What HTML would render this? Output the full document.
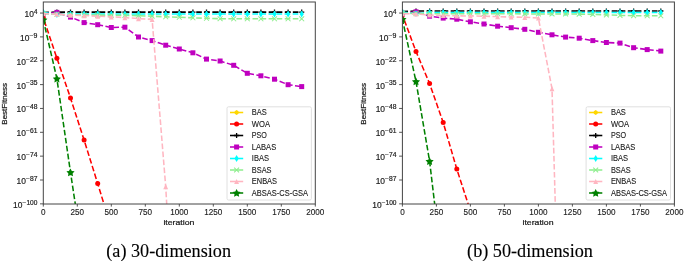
<!DOCTYPE html>
<html><head><meta charset="utf-8"><style>
html,body{margin:0;padding:0;background:#fff;width:685px;height:262px;overflow:hidden}
svg{display:block;will-change:transform;filter:blur(0.35px)}
.tk{font-family:"Liberation Sans",sans-serif;font-size:7.95px;fill:#1a1a1a;stroke:#1a1a1a;stroke-width:0.22px}
.sp{font-family:"Liberation Sans",sans-serif;font-size:6.4px;fill:#1a1a1a;stroke:#1a1a1a;stroke-width:0.18px}
.xt{font-family:"Liberation Sans",sans-serif;font-size:8.5px;fill:#1a1a1a;stroke:#1a1a1a;stroke-width:0.12px}
.yt{font-family:"Liberation Sans",sans-serif;font-size:8.9px;fill:#1a1a1a;stroke:#1a1a1a;stroke-width:0.18px}
.lg{font-family:"Liberation Sans",sans-serif;font-size:8.4px;fill:#1a1a1a;stroke:#1a1a1a;stroke-width:0.12px}
.cap{font-family:"Liberation Serif",serif;font-size:18.2px;fill:#000;stroke:#000;stroke-width:0.12px}
</style></head><body>
<svg width="685" height="262" viewBox="0 0 685 262">
<rect width="685" height="262" fill="#fff"/>
<clipPath id="clip0"><rect x="43.3" y="2.0" width="272.0" height="202.0"/></clipPath>
<g clip-path="url(#clip0)">
<path d="M43.30 17.80 L56.90 58.20 L70.50 98.00 L84.10 140.10 L97.70 183.60 L111.30 228.00" fill="none" stroke="#FF0000" stroke-width="1.55" stroke-dasharray="5.62,2.43" stroke-dashoffset="-3.0"/>
<circle cx="43.30" cy="17.80" r="2.50" fill="#FF0000"/>
<circle cx="56.90" cy="58.20" r="2.50" fill="#FF0000"/>
<circle cx="70.50" cy="98.00" r="2.50" fill="#FF0000"/>
<circle cx="84.10" cy="140.10" r="2.50" fill="#FF0000"/>
<circle cx="97.70" cy="183.60" r="2.50" fill="#FF0000"/>
<circle cx="111.30" cy="228.00" r="2.50" fill="#FF0000"/>
<path d="M43.30 12.40 L56.90 12.10 L70.50 12.10 L84.10 12.10 L97.70 12.10 L111.30 12.10 L124.90 12.10 L138.50 12.10 L152.10 12.10 L165.70 12.10 L179.30 12.10 L192.90 12.10 L206.50 12.10 L220.10 12.10 L233.70 12.10 L247.30 12.10 L260.90 12.10 L274.50 12.10 L288.10 12.10 L301.70 12.10" fill="none" stroke="#000000" stroke-width="1.55" stroke-dasharray="5.62,2.43" stroke-dashoffset="0"/>
<path d="M40.70 12.40H45.90M43.30 9.80V15.00" stroke="#000000" stroke-width="1.3" fill="none"/>
<path d="M54.30 12.10H59.50M56.90 9.50V14.70" stroke="#000000" stroke-width="1.3" fill="none"/>
<path d="M67.90 12.10H73.10M70.50 9.50V14.70" stroke="#000000" stroke-width="1.3" fill="none"/>
<path d="M81.50 12.10H86.70M84.10 9.50V14.70" stroke="#000000" stroke-width="1.3" fill="none"/>
<path d="M95.10 12.10H100.30M97.70 9.50V14.70" stroke="#000000" stroke-width="1.3" fill="none"/>
<path d="M108.70 12.10H113.90M111.30 9.50V14.70" stroke="#000000" stroke-width="1.3" fill="none"/>
<path d="M122.30 12.10H127.50M124.90 9.50V14.70" stroke="#000000" stroke-width="1.3" fill="none"/>
<path d="M135.90 12.10H141.10M138.50 9.50V14.70" stroke="#000000" stroke-width="1.3" fill="none"/>
<path d="M149.50 12.10H154.70M152.10 9.50V14.70" stroke="#000000" stroke-width="1.3" fill="none"/>
<path d="M163.10 12.10H168.30M165.70 9.50V14.70" stroke="#000000" stroke-width="1.3" fill="none"/>
<path d="M176.70 12.10H181.90M179.30 9.50V14.70" stroke="#000000" stroke-width="1.3" fill="none"/>
<path d="M190.30 12.10H195.50M192.90 9.50V14.70" stroke="#000000" stroke-width="1.3" fill="none"/>
<path d="M203.90 12.10H209.10M206.50 9.50V14.70" stroke="#000000" stroke-width="1.3" fill="none"/>
<path d="M217.50 12.10H222.70M220.10 9.50V14.70" stroke="#000000" stroke-width="1.3" fill="none"/>
<path d="M231.10 12.10H236.30M233.70 9.50V14.70" stroke="#000000" stroke-width="1.3" fill="none"/>
<path d="M244.70 12.10H249.90M247.30 9.50V14.70" stroke="#000000" stroke-width="1.3" fill="none"/>
<path d="M258.30 12.10H263.50M260.90 9.50V14.70" stroke="#000000" stroke-width="1.3" fill="none"/>
<path d="M271.90 12.10H277.10M274.50 9.50V14.70" stroke="#000000" stroke-width="1.3" fill="none"/>
<path d="M285.50 12.10H290.70M288.10 9.50V14.70" stroke="#000000" stroke-width="1.3" fill="none"/>
<path d="M299.10 12.10H304.30M301.70 9.50V14.70" stroke="#000000" stroke-width="1.3" fill="none"/>
<path d="M43.30 13.80 L56.90 12.40 L70.50 17.10 L84.10 22.60 L97.70 24.70 L111.30 27.50 L124.90 27.20 L138.50 37.00 L152.10 40.60 L165.70 45.20 L179.30 49.00 L192.90 52.80 L206.50 59.10 L220.10 61.00 L233.70 65.30 L247.30 73.30 L260.90 75.80 L274.50 79.20 L288.10 84.70 L301.70 86.60" fill="none" stroke="#BF00BF" stroke-width="1.55" stroke-dasharray="5.62,2.43" stroke-dashoffset="0"/>
<rect x="40.80" y="11.30" width="5.00" height="5.00" fill="#BF00BF"/>
<rect x="54.40" y="9.90" width="5.00" height="5.00" fill="#BF00BF"/>
<rect x="68.00" y="14.60" width="5.00" height="5.00" fill="#BF00BF"/>
<rect x="81.60" y="20.10" width="5.00" height="5.00" fill="#BF00BF"/>
<rect x="95.20" y="22.20" width="5.00" height="5.00" fill="#BF00BF"/>
<rect x="108.80" y="25.00" width="5.00" height="5.00" fill="#BF00BF"/>
<rect x="122.40" y="24.70" width="5.00" height="5.00" fill="#BF00BF"/>
<rect x="136.00" y="34.50" width="5.00" height="5.00" fill="#BF00BF"/>
<rect x="149.60" y="38.10" width="5.00" height="5.00" fill="#BF00BF"/>
<rect x="163.20" y="42.70" width="5.00" height="5.00" fill="#BF00BF"/>
<rect x="176.80" y="46.50" width="5.00" height="5.00" fill="#BF00BF"/>
<rect x="190.40" y="50.30" width="5.00" height="5.00" fill="#BF00BF"/>
<rect x="204.00" y="56.60" width="5.00" height="5.00" fill="#BF00BF"/>
<rect x="217.60" y="58.50" width="5.00" height="5.00" fill="#BF00BF"/>
<rect x="231.20" y="62.80" width="5.00" height="5.00" fill="#BF00BF"/>
<rect x="244.80" y="70.80" width="5.00" height="5.00" fill="#BF00BF"/>
<rect x="258.40" y="73.30" width="5.00" height="5.00" fill="#BF00BF"/>
<rect x="272.00" y="76.70" width="5.00" height="5.00" fill="#BF00BF"/>
<rect x="285.60" y="82.20" width="5.00" height="5.00" fill="#BF00BF"/>
<rect x="299.20" y="84.10" width="5.00" height="5.00" fill="#BF00BF"/>
<path d="M43.30 12.30 L56.90 14.60 L70.50 14.00 L84.10 14.00 L97.70 14.00 L111.30 14.00 L124.90 14.00 L138.50 14.00 L152.10 14.00 L165.70 14.00 L179.30 14.00 L192.90 14.00 L206.50 14.00 L220.10 14.00 L233.70 14.00 L247.30 14.00 L260.90 14.00 L274.50 14.00 L288.10 14.00 L301.70 14.00" fill="none" stroke="#00FFFF" stroke-width="1.55" stroke-dasharray="5.62,2.43" stroke-dashoffset="0"/>
<polygon points="43.30,8.85 45.40,12.30 43.30,15.75 41.20,12.30" fill="#00FFFF"/>
<polygon points="56.90,11.15 59.00,14.60 56.90,18.05 54.80,14.60" fill="#00FFFF"/>
<polygon points="70.50,10.55 72.60,14.00 70.50,17.45 68.40,14.00" fill="#00FFFF"/>
<polygon points="84.10,10.55 86.20,14.00 84.10,17.45 82.00,14.00" fill="#00FFFF"/>
<polygon points="97.70,10.55 99.80,14.00 97.70,17.45 95.60,14.00" fill="#00FFFF"/>
<polygon points="111.30,10.55 113.40,14.00 111.30,17.45 109.20,14.00" fill="#00FFFF"/>
<polygon points="124.90,10.55 127.00,14.00 124.90,17.45 122.80,14.00" fill="#00FFFF"/>
<polygon points="138.50,10.55 140.60,14.00 138.50,17.45 136.40,14.00" fill="#00FFFF"/>
<polygon points="152.10,10.55 154.20,14.00 152.10,17.45 150.00,14.00" fill="#00FFFF"/>
<polygon points="165.70,10.55 167.80,14.00 165.70,17.45 163.60,14.00" fill="#00FFFF"/>
<polygon points="179.30,10.55 181.40,14.00 179.30,17.45 177.20,14.00" fill="#00FFFF"/>
<polygon points="192.90,10.55 195.00,14.00 192.90,17.45 190.80,14.00" fill="#00FFFF"/>
<polygon points="206.50,10.55 208.60,14.00 206.50,17.45 204.40,14.00" fill="#00FFFF"/>
<polygon points="220.10,10.55 222.20,14.00 220.10,17.45 218.00,14.00" fill="#00FFFF"/>
<polygon points="233.70,10.55 235.80,14.00 233.70,17.45 231.60,14.00" fill="#00FFFF"/>
<polygon points="247.30,10.55 249.40,14.00 247.30,17.45 245.20,14.00" fill="#00FFFF"/>
<polygon points="260.90,10.55 263.00,14.00 260.90,17.45 258.80,14.00" fill="#00FFFF"/>
<polygon points="274.50,10.55 276.60,14.00 274.50,17.45 272.40,14.00" fill="#00FFFF"/>
<polygon points="288.10,10.55 290.20,14.00 288.10,17.45 286.00,14.00" fill="#00FFFF"/>
<polygon points="301.70,10.55 303.80,14.00 301.70,17.45 299.60,14.00" fill="#00FFFF"/>
<path d="M43.30 13.60 L56.90 14.30 L70.50 14.70 L84.10 15.00 L97.70 15.10 L111.30 15.20 L124.90 15.40 L138.50 15.70 L152.10 16.20 L165.70 16.80 L179.30 17.30 L192.90 17.80 L206.50 18.30 L220.10 18.70 L233.70 18.80 L247.30 18.80 L260.90 18.80 L274.50 18.80 L288.10 18.80 L301.70 18.80" fill="none" stroke="#90EE90" stroke-width="1.55" stroke-dasharray="5.62,2.43" stroke-dashoffset="0"/>
<path d="M40.85 11.15L45.75 16.05M40.85 16.05L45.75 11.15" stroke="#90EE90" stroke-width="1.05" fill="none"/>
<path d="M54.45 11.85L59.35 16.75M54.45 16.75L59.35 11.85" stroke="#90EE90" stroke-width="1.05" fill="none"/>
<path d="M68.05 12.25L72.95 17.15M68.05 17.15L72.95 12.25" stroke="#90EE90" stroke-width="1.05" fill="none"/>
<path d="M81.65 12.55L86.55 17.45M81.65 17.45L86.55 12.55" stroke="#90EE90" stroke-width="1.05" fill="none"/>
<path d="M95.25 12.65L100.15 17.55M95.25 17.55L100.15 12.65" stroke="#90EE90" stroke-width="1.05" fill="none"/>
<path d="M108.85 12.75L113.75 17.65M108.85 17.65L113.75 12.75" stroke="#90EE90" stroke-width="1.05" fill="none"/>
<path d="M122.45 12.95L127.35 17.85M122.45 17.85L127.35 12.95" stroke="#90EE90" stroke-width="1.05" fill="none"/>
<path d="M136.05 13.25L140.95 18.15M136.05 18.15L140.95 13.25" stroke="#90EE90" stroke-width="1.05" fill="none"/>
<path d="M149.65 13.75L154.55 18.65M149.65 18.65L154.55 13.75" stroke="#90EE90" stroke-width="1.05" fill="none"/>
<path d="M163.25 14.35L168.15 19.25M163.25 19.25L168.15 14.35" stroke="#90EE90" stroke-width="1.05" fill="none"/>
<path d="M176.85 14.85L181.75 19.75M176.85 19.75L181.75 14.85" stroke="#90EE90" stroke-width="1.05" fill="none"/>
<path d="M190.45 15.35L195.35 20.25M190.45 20.25L195.35 15.35" stroke="#90EE90" stroke-width="1.05" fill="none"/>
<path d="M204.05 15.85L208.95 20.75M204.05 20.75L208.95 15.85" stroke="#90EE90" stroke-width="1.05" fill="none"/>
<path d="M217.65 16.25L222.55 21.15M217.65 21.15L222.55 16.25" stroke="#90EE90" stroke-width="1.05" fill="none"/>
<path d="M231.25 16.35L236.15 21.25M231.25 21.25L236.15 16.35" stroke="#90EE90" stroke-width="1.05" fill="none"/>
<path d="M244.85 16.35L249.75 21.25M244.85 21.25L249.75 16.35" stroke="#90EE90" stroke-width="1.05" fill="none"/>
<path d="M258.45 16.35L263.35 21.25M258.45 21.25L263.35 16.35" stroke="#90EE90" stroke-width="1.05" fill="none"/>
<path d="M272.05 16.35L276.95 21.25M272.05 21.25L276.95 16.35" stroke="#90EE90" stroke-width="1.05" fill="none"/>
<path d="M285.65 16.35L290.55 21.25M285.65 21.25L290.55 16.35" stroke="#90EE90" stroke-width="1.05" fill="none"/>
<path d="M299.25 16.35L304.15 21.25M299.25 21.25L304.15 16.35" stroke="#90EE90" stroke-width="1.05" fill="none"/>
<path d="M43.30 13.40 L56.90 14.20 L70.50 15.20 L84.10 15.60 L97.70 16.20 L111.30 16.80 L124.90 17.60 L138.50 18.60 L152.10 19.40 L165.70 186.60 L179.30 420.00" fill="none" stroke="#FFB6C1" stroke-width="1.55" stroke-dasharray="5.62,2.43" stroke-dashoffset="0"/>
<polygon points="43.30,10.80 45.75,16.00 40.85,16.00" fill="#FFB6C1"/>
<polygon points="56.90,11.60 59.35,16.80 54.45,16.80" fill="#FFB6C1"/>
<polygon points="70.50,12.60 72.95,17.80 68.05,17.80" fill="#FFB6C1"/>
<polygon points="84.10,13.00 86.55,18.20 81.65,18.20" fill="#FFB6C1"/>
<polygon points="97.70,13.60 100.15,18.80 95.25,18.80" fill="#FFB6C1"/>
<polygon points="111.30,14.20 113.75,19.40 108.85,19.40" fill="#FFB6C1"/>
<polygon points="124.90,15.00 127.35,20.20 122.45,20.20" fill="#FFB6C1"/>
<polygon points="138.50,16.00 140.95,21.20 136.05,21.20" fill="#FFB6C1"/>
<polygon points="152.10,16.80 154.55,22.00 149.65,22.00" fill="#FFB6C1"/>
<polygon points="165.70,184.00 168.15,189.20 163.25,189.20" fill="#FFB6C1"/>
<polygon points="179.30,417.40 181.75,422.60 176.85,422.60" fill="#FFB6C1"/>
<path d="M43.30 19.80 L56.90 78.70 L70.50 172.40 L84.10 262.00" fill="none" stroke="#008000" stroke-width="1.55" stroke-dasharray="5.62,2.43" stroke-dashoffset="0.6"/>
<polygon points="43.30,15.80 44.59,18.32 47.39,18.77 45.39,20.78 45.83,23.58 43.30,22.30 40.77,23.58 41.21,20.78 39.21,18.77 42.01,18.32" fill="#008000"/>
<polygon points="56.90,74.70 58.19,77.22 60.99,77.67 58.99,79.68 59.43,82.48 56.90,81.20 54.37,82.48 54.81,79.68 52.81,77.67 55.61,77.22" fill="#008000"/>
<polygon points="70.50,168.40 71.79,170.92 74.59,171.37 72.59,173.38 73.03,176.18 70.50,174.90 67.97,176.18 68.41,173.38 66.41,171.37 69.21,170.92" fill="#008000"/>
<polygon points="84.10,258.00 85.39,260.52 88.19,260.97 86.19,262.98 86.63,265.78 84.10,264.50 81.57,265.78 82.01,262.98 80.01,260.97 82.81,260.52" fill="#008000"/>
</g>
<rect x="43.3" y="2.0" width="272.0" height="202.0" fill="none" stroke="#444" stroke-width="1"/>
<line x1="43.30" y1="204.0" x2="43.30" y2="206.6" stroke="#444" stroke-width="0.9"/>
<text x="43.30" y="215.2" text-anchor="middle" class="xt" textLength="4.54" lengthAdjust="spacingAndGlyphs">0</text>
<line x1="77.30" y1="204.0" x2="77.30" y2="206.6" stroke="#444" stroke-width="0.9"/>
<text x="77.30" y="215.2" text-anchor="middle" class="xt" textLength="13.61" lengthAdjust="spacingAndGlyphs">250</text>
<line x1="111.30" y1="204.0" x2="111.30" y2="206.6" stroke="#444" stroke-width="0.9"/>
<text x="111.30" y="215.2" text-anchor="middle" class="xt" textLength="13.61" lengthAdjust="spacingAndGlyphs">500</text>
<line x1="145.30" y1="204.0" x2="145.30" y2="206.6" stroke="#444" stroke-width="0.9"/>
<text x="145.30" y="215.2" text-anchor="middle" class="xt" textLength="13.61" lengthAdjust="spacingAndGlyphs">750</text>
<line x1="179.30" y1="204.0" x2="179.30" y2="206.6" stroke="#444" stroke-width="0.9"/>
<text x="179.30" y="215.2" text-anchor="middle" class="xt" textLength="18.15" lengthAdjust="spacingAndGlyphs">1000</text>
<line x1="213.30" y1="204.0" x2="213.30" y2="206.6" stroke="#444" stroke-width="0.9"/>
<text x="213.30" y="215.2" text-anchor="middle" class="xt" textLength="18.15" lengthAdjust="spacingAndGlyphs">1250</text>
<line x1="247.30" y1="204.0" x2="247.30" y2="206.6" stroke="#444" stroke-width="0.9"/>
<text x="247.30" y="215.2" text-anchor="middle" class="xt" textLength="18.15" lengthAdjust="spacingAndGlyphs">1500</text>
<line x1="281.30" y1="204.0" x2="281.30" y2="206.6" stroke="#444" stroke-width="0.9"/>
<text x="281.30" y="215.2" text-anchor="middle" class="xt" textLength="18.15" lengthAdjust="spacingAndGlyphs">1750</text>
<line x1="315.30" y1="204.0" x2="315.30" y2="206.6" stroke="#444" stroke-width="0.9"/>
<text x="315.30" y="215.2" text-anchor="middle" class="xt" textLength="18.15" lengthAdjust="spacingAndGlyphs">2000</text>
<text x="178.90" y="225.1" text-anchor="middle" class="tk" textLength="31.05" lengthAdjust="spacingAndGlyphs">iteration</text>
<line x1="40.00" y1="13.05" x2="43.3" y2="13.05" stroke="#444" stroke-width="0.9"/>
<text x="33.96" y="13.85" class="sp" textLength="3.44" lengthAdjust="spacingAndGlyphs">4</text>
<text x="24.51" y="16.95" class="yt" textLength="9.35" lengthAdjust="spacingAndGlyphs">10</text>
<line x1="40.00" y1="36.90" x2="43.3" y2="36.90" stroke="#444" stroke-width="0.9"/>
<text x="29.44" y="37.70" class="sp" textLength="7.96" lengthAdjust="spacingAndGlyphs">−9</text>
<text x="19.99" y="40.80" class="yt" textLength="9.35" lengthAdjust="spacingAndGlyphs">10</text>
<line x1="40.00" y1="60.75" x2="43.3" y2="60.75" stroke="#444" stroke-width="0.9"/>
<text x="26.00" y="61.55" class="sp" textLength="11.40" lengthAdjust="spacingAndGlyphs">−22</text>
<text x="16.55" y="64.65" class="yt" textLength="9.35" lengthAdjust="spacingAndGlyphs">10</text>
<line x1="40.00" y1="84.60" x2="43.3" y2="84.60" stroke="#444" stroke-width="0.9"/>
<text x="26.00" y="85.40" class="sp" textLength="11.40" lengthAdjust="spacingAndGlyphs">−35</text>
<text x="16.55" y="88.50" class="yt" textLength="9.35" lengthAdjust="spacingAndGlyphs">10</text>
<line x1="40.00" y1="108.45" x2="43.3" y2="108.45" stroke="#444" stroke-width="0.9"/>
<text x="26.00" y="109.25" class="sp" textLength="11.40" lengthAdjust="spacingAndGlyphs">−48</text>
<text x="16.55" y="112.35" class="yt" textLength="9.35" lengthAdjust="spacingAndGlyphs">10</text>
<line x1="40.00" y1="132.30" x2="43.3" y2="132.30" stroke="#444" stroke-width="0.9"/>
<text x="26.00" y="133.10" class="sp" textLength="11.40" lengthAdjust="spacingAndGlyphs">−61</text>
<text x="16.55" y="136.20" class="yt" textLength="9.35" lengthAdjust="spacingAndGlyphs">10</text>
<line x1="40.00" y1="156.15" x2="43.3" y2="156.15" stroke="#444" stroke-width="0.9"/>
<text x="26.00" y="156.95" class="sp" textLength="11.40" lengthAdjust="spacingAndGlyphs">−74</text>
<text x="16.55" y="160.05" class="yt" textLength="9.35" lengthAdjust="spacingAndGlyphs">10</text>
<line x1="40.00" y1="180.00" x2="43.3" y2="180.00" stroke="#444" stroke-width="0.9"/>
<text x="26.00" y="180.80" class="sp" textLength="11.40" lengthAdjust="spacingAndGlyphs">−87</text>
<text x="16.55" y="183.90" class="yt" textLength="9.35" lengthAdjust="spacingAndGlyphs">10</text>
<line x1="40.00" y1="203.85" x2="43.3" y2="203.85" stroke="#444" stroke-width="0.9"/>
<text x="22.57" y="204.65" class="sp" textLength="14.83" lengthAdjust="spacingAndGlyphs">−100</text>
<text x="13.12" y="207.75" class="yt" textLength="9.35" lengthAdjust="spacingAndGlyphs">10</text>
<text transform="translate(7.30,103.80) rotate(-90)" text-anchor="middle" class="tk" textLength="41.73" lengthAdjust="spacingAndGlyphs">BestFitness</text>
<rect x="227.00" y="106.8" width="84.40" height="93.20" rx="1.5" fill="#fff" fill-opacity="0.8" stroke="#d8d8d8" stroke-width="0.8"/>
<line x1="230.00" y1="112.50" x2="243.20" y2="112.50" stroke="#FFD700" stroke-width="1.55"/>
<polygon points="236.60,109.90 238.50,111.20 238.50,113.80 236.60,115.10 234.70,113.80 234.70,111.20" fill="#FFD700"/>
<text x="251.80" y="115.10" class="lg" textLength="14.98" lengthAdjust="spacingAndGlyphs">BAS</text>
<line x1="230.00" y1="124.00" x2="243.20" y2="124.00" stroke="#FF0000" stroke-width="1.55"/>
<circle cx="236.60" cy="124.00" r="2.50" fill="#FF0000"/>
<text x="251.80" y="126.60" class="lg" textLength="18.24" lengthAdjust="spacingAndGlyphs">WOA</text>
<line x1="230.00" y1="135.50" x2="243.20" y2="135.50" stroke="#000000" stroke-width="1.55"/>
<path d="M234.00 135.50H239.20M236.60 132.90V138.10" stroke="#000000" stroke-width="1.3" fill="none"/>
<text x="251.80" y="138.10" class="lg" textLength="15.13" lengthAdjust="spacingAndGlyphs">PSO</text>
<line x1="230.00" y1="147.00" x2="243.20" y2="147.00" stroke="#BF00BF" stroke-width="1.55"/>
<rect x="234.10" y="144.50" width="5.00" height="5.00" fill="#BF00BF"/>
<text x="251.80" y="149.60" class="lg" textLength="24.42" lengthAdjust="spacingAndGlyphs">LABAS</text>
<line x1="230.00" y1="158.50" x2="243.20" y2="158.50" stroke="#00FFFF" stroke-width="1.55"/>
<polygon points="236.60,155.05 238.70,158.50 236.60,161.95 234.50,158.50" fill="#00FFFF"/>
<text x="251.80" y="161.10" class="lg" textLength="17.18" lengthAdjust="spacingAndGlyphs">IBAS</text>
<line x1="230.00" y1="170.00" x2="243.20" y2="170.00" stroke="#90EE90" stroke-width="1.55"/>
<path d="M234.15 167.55L239.05 172.45M234.15 172.45L239.05 167.55" stroke="#90EE90" stroke-width="1.05" fill="none"/>
<text x="251.80" y="172.60" class="lg" textLength="19.73" lengthAdjust="spacingAndGlyphs">BSAS</text>
<line x1="230.00" y1="181.50" x2="243.20" y2="181.50" stroke="#FFB6C1" stroke-width="1.55"/>
<polygon points="236.60,178.90 239.05,184.10 234.15,184.10" fill="#FFB6C1"/>
<text x="251.80" y="184.10" class="lg" textLength="25.28" lengthAdjust="spacingAndGlyphs">ENBAS</text>
<line x1="230.00" y1="193.00" x2="243.20" y2="193.00" stroke="#008000" stroke-width="1.55"/>
<polygon points="236.60,189.00 237.89,191.52 240.69,191.97 238.69,193.98 239.13,196.78 236.60,195.50 234.07,196.78 234.51,193.98 232.51,191.97 235.31,191.52" fill="#008000"/>
<text x="251.80" y="195.60" class="lg" textLength="56.24" lengthAdjust="spacingAndGlyphs">ABSAS-CS-GSA</text>
<text x="168.65" y="257" text-anchor="middle" class="cap">(a) 30-dimension</text>
<clipPath id="clip1"><rect x="402.4" y="2.0" width="272.0" height="202.0"/></clipPath>
<g clip-path="url(#clip1)">
<path d="M402.40 15.00 L416.00 51.50 L429.60 83.60 L443.20 122.50 L456.80 169.10 L470.40 211.00" fill="none" stroke="#FF0000" stroke-width="1.55" stroke-dasharray="5.62,2.43" stroke-dashoffset="2.4"/>
<circle cx="402.40" cy="15.00" r="2.50" fill="#FF0000"/>
<circle cx="416.00" cy="51.50" r="2.50" fill="#FF0000"/>
<circle cx="429.60" cy="83.60" r="2.50" fill="#FF0000"/>
<circle cx="443.20" cy="122.50" r="2.50" fill="#FF0000"/>
<circle cx="456.80" cy="169.10" r="2.50" fill="#FF0000"/>
<circle cx="470.40" cy="211.00" r="2.50" fill="#FF0000"/>
<path d="M402.40 11.60 L416.00 11.00 L429.60 11.00 L443.20 11.00 L456.80 11.00 L470.40 11.00 L484.00 11.00 L497.60 11.00 L511.20 11.00 L524.80 11.00 L538.40 11.00 L552.00 11.00 L565.60 11.00 L579.20 11.00 L592.80 11.00 L606.40 11.00 L620.00 11.00 L633.60 11.00 L647.20 11.00 L660.80 11.00" fill="none" stroke="#000000" stroke-width="1.55" stroke-dasharray="5.62,2.43" stroke-dashoffset="0"/>
<path d="M399.80 11.60H405.00M402.40 9.00V14.20" stroke="#000000" stroke-width="1.3" fill="none"/>
<path d="M413.40 11.00H418.60M416.00 8.40V13.60" stroke="#000000" stroke-width="1.3" fill="none"/>
<path d="M427.00 11.00H432.20M429.60 8.40V13.60" stroke="#000000" stroke-width="1.3" fill="none"/>
<path d="M440.60 11.00H445.80M443.20 8.40V13.60" stroke="#000000" stroke-width="1.3" fill="none"/>
<path d="M454.20 11.00H459.40M456.80 8.40V13.60" stroke="#000000" stroke-width="1.3" fill="none"/>
<path d="M467.80 11.00H473.00M470.40 8.40V13.60" stroke="#000000" stroke-width="1.3" fill="none"/>
<path d="M481.40 11.00H486.60M484.00 8.40V13.60" stroke="#000000" stroke-width="1.3" fill="none"/>
<path d="M495.00 11.00H500.20M497.60 8.40V13.60" stroke="#000000" stroke-width="1.3" fill="none"/>
<path d="M508.60 11.00H513.80M511.20 8.40V13.60" stroke="#000000" stroke-width="1.3" fill="none"/>
<path d="M522.20 11.00H527.40M524.80 8.40V13.60" stroke="#000000" stroke-width="1.3" fill="none"/>
<path d="M535.80 11.00H541.00M538.40 8.40V13.60" stroke="#000000" stroke-width="1.3" fill="none"/>
<path d="M549.40 11.00H554.60M552.00 8.40V13.60" stroke="#000000" stroke-width="1.3" fill="none"/>
<path d="M563.00 11.00H568.20M565.60 8.40V13.60" stroke="#000000" stroke-width="1.3" fill="none"/>
<path d="M576.60 11.00H581.80M579.20 8.40V13.60" stroke="#000000" stroke-width="1.3" fill="none"/>
<path d="M590.20 11.00H595.40M592.80 8.40V13.60" stroke="#000000" stroke-width="1.3" fill="none"/>
<path d="M603.80 11.00H609.00M606.40 8.40V13.60" stroke="#000000" stroke-width="1.3" fill="none"/>
<path d="M617.40 11.00H622.60M620.00 8.40V13.60" stroke="#000000" stroke-width="1.3" fill="none"/>
<path d="M631.00 11.00H636.20M633.60 8.40V13.60" stroke="#000000" stroke-width="1.3" fill="none"/>
<path d="M644.60 11.00H649.80M647.20 8.40V13.60" stroke="#000000" stroke-width="1.3" fill="none"/>
<path d="M658.20 11.00H663.40M660.80 8.40V13.60" stroke="#000000" stroke-width="1.3" fill="none"/>
<path d="M402.40 13.80 L416.00 11.80 L429.60 16.20 L443.20 18.10 L456.80 19.20 L470.40 21.80 L484.00 24.00 L497.60 26.20 L511.20 27.70 L524.80 29.30 L538.40 32.30 L552.00 34.80 L565.60 37.10 L579.20 38.20 L592.80 40.60 L606.40 42.50 L620.00 43.10 L633.60 47.70 L647.20 49.60 L660.80 51.10" fill="none" stroke="#BF00BF" stroke-width="1.55" stroke-dasharray="5.62,2.43" stroke-dashoffset="0"/>
<rect x="399.90" y="11.30" width="5.00" height="5.00" fill="#BF00BF"/>
<rect x="413.50" y="9.30" width="5.00" height="5.00" fill="#BF00BF"/>
<rect x="427.10" y="13.70" width="5.00" height="5.00" fill="#BF00BF"/>
<rect x="440.70" y="15.60" width="5.00" height="5.00" fill="#BF00BF"/>
<rect x="454.30" y="16.70" width="5.00" height="5.00" fill="#BF00BF"/>
<rect x="467.90" y="19.30" width="5.00" height="5.00" fill="#BF00BF"/>
<rect x="481.50" y="21.50" width="5.00" height="5.00" fill="#BF00BF"/>
<rect x="495.10" y="23.70" width="5.00" height="5.00" fill="#BF00BF"/>
<rect x="508.70" y="25.20" width="5.00" height="5.00" fill="#BF00BF"/>
<rect x="522.30" y="26.80" width="5.00" height="5.00" fill="#BF00BF"/>
<rect x="535.90" y="29.80" width="5.00" height="5.00" fill="#BF00BF"/>
<rect x="549.50" y="32.30" width="5.00" height="5.00" fill="#BF00BF"/>
<rect x="563.10" y="34.60" width="5.00" height="5.00" fill="#BF00BF"/>
<rect x="576.70" y="35.70" width="5.00" height="5.00" fill="#BF00BF"/>
<rect x="590.30" y="38.10" width="5.00" height="5.00" fill="#BF00BF"/>
<rect x="603.90" y="40.00" width="5.00" height="5.00" fill="#BF00BF"/>
<rect x="617.50" y="40.60" width="5.00" height="5.00" fill="#BF00BF"/>
<rect x="631.10" y="45.20" width="5.00" height="5.00" fill="#BF00BF"/>
<rect x="644.70" y="47.10" width="5.00" height="5.00" fill="#BF00BF"/>
<rect x="658.30" y="48.60" width="5.00" height="5.00" fill="#BF00BF"/>
<path d="M402.40 12.00 L416.00 13.60 L429.60 12.50 L443.20 12.50 L456.80 12.50 L470.40 12.50 L484.00 12.50 L497.60 12.50 L511.20 12.50 L524.80 12.50 L538.40 12.50 L552.00 12.50 L565.60 12.50 L579.20 12.50 L592.80 12.50 L606.40 12.50 L620.00 12.50 L633.60 12.50 L647.20 12.50 L660.80 12.50" fill="none" stroke="#00FFFF" stroke-width="1.55" stroke-dasharray="5.62,2.43" stroke-dashoffset="0"/>
<polygon points="402.40,8.55 404.50,12.00 402.40,15.45 400.30,12.00" fill="#00FFFF"/>
<polygon points="416.00,10.15 418.10,13.60 416.00,17.05 413.90,13.60" fill="#00FFFF"/>
<polygon points="429.60,9.05 431.70,12.50 429.60,15.95 427.50,12.50" fill="#00FFFF"/>
<polygon points="443.20,9.05 445.30,12.50 443.20,15.95 441.10,12.50" fill="#00FFFF"/>
<polygon points="456.80,9.05 458.90,12.50 456.80,15.95 454.70,12.50" fill="#00FFFF"/>
<polygon points="470.40,9.05 472.50,12.50 470.40,15.95 468.30,12.50" fill="#00FFFF"/>
<polygon points="484.00,9.05 486.10,12.50 484.00,15.95 481.90,12.50" fill="#00FFFF"/>
<polygon points="497.60,9.05 499.70,12.50 497.60,15.95 495.50,12.50" fill="#00FFFF"/>
<polygon points="511.20,9.05 513.30,12.50 511.20,15.95 509.10,12.50" fill="#00FFFF"/>
<polygon points="524.80,9.05 526.90,12.50 524.80,15.95 522.70,12.50" fill="#00FFFF"/>
<polygon points="538.40,9.05 540.50,12.50 538.40,15.95 536.30,12.50" fill="#00FFFF"/>
<polygon points="552.00,9.05 554.10,12.50 552.00,15.95 549.90,12.50" fill="#00FFFF"/>
<polygon points="565.60,9.05 567.70,12.50 565.60,15.95 563.50,12.50" fill="#00FFFF"/>
<polygon points="579.20,9.05 581.30,12.50 579.20,15.95 577.10,12.50" fill="#00FFFF"/>
<polygon points="592.80,9.05 594.90,12.50 592.80,15.95 590.70,12.50" fill="#00FFFF"/>
<polygon points="606.40,9.05 608.50,12.50 606.40,15.95 604.30,12.50" fill="#00FFFF"/>
<polygon points="620.00,9.05 622.10,12.50 620.00,15.95 617.90,12.50" fill="#00FFFF"/>
<polygon points="633.60,9.05 635.70,12.50 633.60,15.95 631.50,12.50" fill="#00FFFF"/>
<polygon points="647.20,9.05 649.30,12.50 647.20,15.95 645.10,12.50" fill="#00FFFF"/>
<polygon points="660.80,9.05 662.90,12.50 660.80,15.95 658.70,12.50" fill="#00FFFF"/>
<path d="M402.40 13.20 L416.00 13.50 L429.60 13.70 L443.20 13.80 L456.80 13.80 L470.40 13.80 L484.00 13.80 L497.60 13.80 L511.20 13.80 L524.80 13.90 L538.40 14.00 L552.00 14.00 L565.60 14.00 L579.20 14.10 L592.80 14.40 L606.40 14.90 L620.00 15.40 L633.60 15.70 L647.20 15.80 L660.80 15.80" fill="none" stroke="#90EE90" stroke-width="1.55" stroke-dasharray="5.62,2.43" stroke-dashoffset="0"/>
<path d="M399.95 10.75L404.85 15.65M399.95 15.65L404.85 10.75" stroke="#90EE90" stroke-width="1.05" fill="none"/>
<path d="M413.55 11.05L418.45 15.95M413.55 15.95L418.45 11.05" stroke="#90EE90" stroke-width="1.05" fill="none"/>
<path d="M427.15 11.25L432.05 16.15M427.15 16.15L432.05 11.25" stroke="#90EE90" stroke-width="1.05" fill="none"/>
<path d="M440.75 11.35L445.65 16.25M440.75 16.25L445.65 11.35" stroke="#90EE90" stroke-width="1.05" fill="none"/>
<path d="M454.35 11.35L459.25 16.25M454.35 16.25L459.25 11.35" stroke="#90EE90" stroke-width="1.05" fill="none"/>
<path d="M467.95 11.35L472.85 16.25M467.95 16.25L472.85 11.35" stroke="#90EE90" stroke-width="1.05" fill="none"/>
<path d="M481.55 11.35L486.45 16.25M481.55 16.25L486.45 11.35" stroke="#90EE90" stroke-width="1.05" fill="none"/>
<path d="M495.15 11.35L500.05 16.25M495.15 16.25L500.05 11.35" stroke="#90EE90" stroke-width="1.05" fill="none"/>
<path d="M508.75 11.35L513.65 16.25M508.75 16.25L513.65 11.35" stroke="#90EE90" stroke-width="1.05" fill="none"/>
<path d="M522.35 11.45L527.25 16.35M522.35 16.35L527.25 11.45" stroke="#90EE90" stroke-width="1.05" fill="none"/>
<path d="M535.95 11.55L540.85 16.45M535.95 16.45L540.85 11.55" stroke="#90EE90" stroke-width="1.05" fill="none"/>
<path d="M549.55 11.55L554.45 16.45M549.55 16.45L554.45 11.55" stroke="#90EE90" stroke-width="1.05" fill="none"/>
<path d="M563.15 11.55L568.05 16.45M563.15 16.45L568.05 11.55" stroke="#90EE90" stroke-width="1.05" fill="none"/>
<path d="M576.75 11.65L581.65 16.55M576.75 16.55L581.65 11.65" stroke="#90EE90" stroke-width="1.05" fill="none"/>
<path d="M590.35 11.95L595.25 16.85M590.35 16.85L595.25 11.95" stroke="#90EE90" stroke-width="1.05" fill="none"/>
<path d="M603.95 12.45L608.85 17.35M603.95 17.35L608.85 12.45" stroke="#90EE90" stroke-width="1.05" fill="none"/>
<path d="M617.55 12.95L622.45 17.85M617.55 17.85L622.45 12.95" stroke="#90EE90" stroke-width="1.05" fill="none"/>
<path d="M631.15 13.25L636.05 18.15M631.15 18.15L636.05 13.25" stroke="#90EE90" stroke-width="1.05" fill="none"/>
<path d="M644.75 13.35L649.65 18.25M644.75 18.25L649.65 13.35" stroke="#90EE90" stroke-width="1.05" fill="none"/>
<path d="M658.35 13.35L663.25 18.25M658.35 18.25L663.25 13.35" stroke="#90EE90" stroke-width="1.05" fill="none"/>
<path d="M402.40 13.60 L416.00 14.00 L429.60 15.00 L443.20 15.50 L456.80 15.80 L470.40 16.00 L484.00 16.20 L497.60 16.60 L511.20 17.00 L524.80 17.30 L538.40 18.00 L552.00 88.60 L565.60 568.00" fill="none" stroke="#FFB6C1" stroke-width="1.55" stroke-dasharray="5.62,2.43" stroke-dashoffset="-1.6"/>
<polygon points="402.40,11.00 404.85,16.20 399.95,16.20" fill="#FFB6C1"/>
<polygon points="416.00,11.40 418.45,16.60 413.55,16.60" fill="#FFB6C1"/>
<polygon points="429.60,12.40 432.05,17.60 427.15,17.60" fill="#FFB6C1"/>
<polygon points="443.20,12.90 445.65,18.10 440.75,18.10" fill="#FFB6C1"/>
<polygon points="456.80,13.20 459.25,18.40 454.35,18.40" fill="#FFB6C1"/>
<polygon points="470.40,13.40 472.85,18.60 467.95,18.60" fill="#FFB6C1"/>
<polygon points="484.00,13.60 486.45,18.80 481.55,18.80" fill="#FFB6C1"/>
<polygon points="497.60,14.00 500.05,19.20 495.15,19.20" fill="#FFB6C1"/>
<polygon points="511.20,14.40 513.65,19.60 508.75,19.60" fill="#FFB6C1"/>
<polygon points="524.80,14.70 527.25,19.90 522.35,19.90" fill="#FFB6C1"/>
<polygon points="538.40,15.40 540.85,20.60 535.95,20.60" fill="#FFB6C1"/>
<polygon points="552.00,86.00 554.45,91.20 549.55,91.20" fill="#FFB6C1"/>
<polygon points="565.60,565.40 568.05,570.60 563.15,570.60" fill="#FFB6C1"/>
<path d="M402.40 19.30 L416.00 81.50 L429.60 161.20 L443.20 276.00" fill="none" stroke="#008000" stroke-width="1.55" stroke-dasharray="5.62,2.43" stroke-dashoffset="0.8"/>
<polygon points="402.40,15.30 403.69,17.82 406.49,18.27 404.49,20.28 404.93,23.08 402.40,21.80 399.87,23.08 400.31,20.28 398.31,18.27 401.11,17.82" fill="#008000"/>
<polygon points="416.00,77.50 417.29,80.02 420.09,80.47 418.09,82.48 418.53,85.28 416.00,84.00 413.47,85.28 413.91,82.48 411.91,80.47 414.71,80.02" fill="#008000"/>
<polygon points="429.60,157.20 430.89,159.72 433.69,160.17 431.69,162.18 432.13,164.98 429.60,163.70 427.07,164.98 427.51,162.18 425.51,160.17 428.31,159.72" fill="#008000"/>
<polygon points="443.20,272.00 444.49,274.52 447.29,274.97 445.29,276.98 445.73,279.78 443.20,278.50 440.67,279.78 441.11,276.98 439.11,274.97 441.91,274.52" fill="#008000"/>
</g>
<rect x="402.4" y="2.0" width="272.0" height="202.0" fill="none" stroke="#444" stroke-width="1"/>
<line x1="402.40" y1="204.0" x2="402.40" y2="206.6" stroke="#444" stroke-width="0.9"/>
<text x="402.40" y="215.2" text-anchor="middle" class="xt" textLength="4.54" lengthAdjust="spacingAndGlyphs">0</text>
<line x1="436.40" y1="204.0" x2="436.40" y2="206.6" stroke="#444" stroke-width="0.9"/>
<text x="436.40" y="215.2" text-anchor="middle" class="xt" textLength="13.61" lengthAdjust="spacingAndGlyphs">250</text>
<line x1="470.40" y1="204.0" x2="470.40" y2="206.6" stroke="#444" stroke-width="0.9"/>
<text x="470.40" y="215.2" text-anchor="middle" class="xt" textLength="13.61" lengthAdjust="spacingAndGlyphs">500</text>
<line x1="504.40" y1="204.0" x2="504.40" y2="206.6" stroke="#444" stroke-width="0.9"/>
<text x="504.40" y="215.2" text-anchor="middle" class="xt" textLength="13.61" lengthAdjust="spacingAndGlyphs">750</text>
<line x1="538.40" y1="204.0" x2="538.40" y2="206.6" stroke="#444" stroke-width="0.9"/>
<text x="538.40" y="215.2" text-anchor="middle" class="xt" textLength="18.15" lengthAdjust="spacingAndGlyphs">1000</text>
<line x1="572.40" y1="204.0" x2="572.40" y2="206.6" stroke="#444" stroke-width="0.9"/>
<text x="572.40" y="215.2" text-anchor="middle" class="xt" textLength="18.15" lengthAdjust="spacingAndGlyphs">1250</text>
<line x1="606.40" y1="204.0" x2="606.40" y2="206.6" stroke="#444" stroke-width="0.9"/>
<text x="606.40" y="215.2" text-anchor="middle" class="xt" textLength="18.15" lengthAdjust="spacingAndGlyphs">1500</text>
<line x1="640.40" y1="204.0" x2="640.40" y2="206.6" stroke="#444" stroke-width="0.9"/>
<text x="640.40" y="215.2" text-anchor="middle" class="xt" textLength="18.15" lengthAdjust="spacingAndGlyphs">1750</text>
<line x1="674.40" y1="204.0" x2="674.40" y2="206.6" stroke="#444" stroke-width="0.9"/>
<text x="674.40" y="215.2" text-anchor="middle" class="xt" textLength="18.15" lengthAdjust="spacingAndGlyphs">2000</text>
<text x="538.00" y="225.1" text-anchor="middle" class="tk" textLength="31.05" lengthAdjust="spacingAndGlyphs">iteration</text>
<line x1="399.10" y1="13.05" x2="402.4" y2="13.05" stroke="#444" stroke-width="0.9"/>
<text x="393.06" y="13.85" class="sp" textLength="3.44" lengthAdjust="spacingAndGlyphs">4</text>
<text x="383.61" y="16.95" class="yt" textLength="9.35" lengthAdjust="spacingAndGlyphs">10</text>
<line x1="399.10" y1="36.90" x2="402.4" y2="36.90" stroke="#444" stroke-width="0.9"/>
<text x="388.54" y="37.70" class="sp" textLength="7.96" lengthAdjust="spacingAndGlyphs">−9</text>
<text x="379.09" y="40.80" class="yt" textLength="9.35" lengthAdjust="spacingAndGlyphs">10</text>
<line x1="399.10" y1="60.75" x2="402.4" y2="60.75" stroke="#444" stroke-width="0.9"/>
<text x="385.10" y="61.55" class="sp" textLength="11.40" lengthAdjust="spacingAndGlyphs">−22</text>
<text x="375.65" y="64.65" class="yt" textLength="9.35" lengthAdjust="spacingAndGlyphs">10</text>
<line x1="399.10" y1="84.60" x2="402.4" y2="84.60" stroke="#444" stroke-width="0.9"/>
<text x="385.10" y="85.40" class="sp" textLength="11.40" lengthAdjust="spacingAndGlyphs">−35</text>
<text x="375.65" y="88.50" class="yt" textLength="9.35" lengthAdjust="spacingAndGlyphs">10</text>
<line x1="399.10" y1="108.45" x2="402.4" y2="108.45" stroke="#444" stroke-width="0.9"/>
<text x="385.10" y="109.25" class="sp" textLength="11.40" lengthAdjust="spacingAndGlyphs">−48</text>
<text x="375.65" y="112.35" class="yt" textLength="9.35" lengthAdjust="spacingAndGlyphs">10</text>
<line x1="399.10" y1="132.30" x2="402.4" y2="132.30" stroke="#444" stroke-width="0.9"/>
<text x="385.10" y="133.10" class="sp" textLength="11.40" lengthAdjust="spacingAndGlyphs">−61</text>
<text x="375.65" y="136.20" class="yt" textLength="9.35" lengthAdjust="spacingAndGlyphs">10</text>
<line x1="399.10" y1="156.15" x2="402.4" y2="156.15" stroke="#444" stroke-width="0.9"/>
<text x="385.10" y="156.95" class="sp" textLength="11.40" lengthAdjust="spacingAndGlyphs">−74</text>
<text x="375.65" y="160.05" class="yt" textLength="9.35" lengthAdjust="spacingAndGlyphs">10</text>
<line x1="399.10" y1="180.00" x2="402.4" y2="180.00" stroke="#444" stroke-width="0.9"/>
<text x="385.10" y="180.80" class="sp" textLength="11.40" lengthAdjust="spacingAndGlyphs">−87</text>
<text x="375.65" y="183.90" class="yt" textLength="9.35" lengthAdjust="spacingAndGlyphs">10</text>
<line x1="399.10" y1="203.85" x2="402.4" y2="203.85" stroke="#444" stroke-width="0.9"/>
<text x="381.67" y="204.65" class="sp" textLength="14.83" lengthAdjust="spacingAndGlyphs">−100</text>
<text x="372.22" y="207.75" class="yt" textLength="9.35" lengthAdjust="spacingAndGlyphs">10</text>
<text transform="translate(366.40,103.80) rotate(-90)" text-anchor="middle" class="tk" textLength="41.73" lengthAdjust="spacingAndGlyphs">BestFitness</text>
<rect x="586.10" y="106.8" width="84.40" height="93.20" rx="1.5" fill="#fff" fill-opacity="0.8" stroke="#d8d8d8" stroke-width="0.8"/>
<line x1="589.10" y1="112.50" x2="602.30" y2="112.50" stroke="#FFD700" stroke-width="1.55"/>
<polygon points="595.70,109.90 597.60,111.20 597.60,113.80 595.70,115.10 593.80,113.80 593.80,111.20" fill="#FFD700"/>
<text x="610.90" y="115.10" class="lg" textLength="14.98" lengthAdjust="spacingAndGlyphs">BAS</text>
<line x1="589.10" y1="124.00" x2="602.30" y2="124.00" stroke="#FF0000" stroke-width="1.55"/>
<circle cx="595.70" cy="124.00" r="2.50" fill="#FF0000"/>
<text x="610.90" y="126.60" class="lg" textLength="18.24" lengthAdjust="spacingAndGlyphs">WOA</text>
<line x1="589.10" y1="135.50" x2="602.30" y2="135.50" stroke="#000000" stroke-width="1.55"/>
<path d="M593.10 135.50H598.30M595.70 132.90V138.10" stroke="#000000" stroke-width="1.3" fill="none"/>
<text x="610.90" y="138.10" class="lg" textLength="15.13" lengthAdjust="spacingAndGlyphs">PSO</text>
<line x1="589.10" y1="147.00" x2="602.30" y2="147.00" stroke="#BF00BF" stroke-width="1.55"/>
<rect x="593.20" y="144.50" width="5.00" height="5.00" fill="#BF00BF"/>
<text x="610.90" y="149.60" class="lg" textLength="24.42" lengthAdjust="spacingAndGlyphs">LABAS</text>
<line x1="589.10" y1="158.50" x2="602.30" y2="158.50" stroke="#00FFFF" stroke-width="1.55"/>
<polygon points="595.70,155.05 597.80,158.50 595.70,161.95 593.60,158.50" fill="#00FFFF"/>
<text x="610.90" y="161.10" class="lg" textLength="17.18" lengthAdjust="spacingAndGlyphs">IBAS</text>
<line x1="589.10" y1="170.00" x2="602.30" y2="170.00" stroke="#90EE90" stroke-width="1.55"/>
<path d="M593.25 167.55L598.15 172.45M593.25 172.45L598.15 167.55" stroke="#90EE90" stroke-width="1.05" fill="none"/>
<text x="610.90" y="172.60" class="lg" textLength="19.73" lengthAdjust="spacingAndGlyphs">BSAS</text>
<line x1="589.10" y1="181.50" x2="602.30" y2="181.50" stroke="#FFB6C1" stroke-width="1.55"/>
<polygon points="595.70,178.90 598.15,184.10 593.25,184.10" fill="#FFB6C1"/>
<text x="610.90" y="184.10" class="lg" textLength="25.28" lengthAdjust="spacingAndGlyphs">ENBAS</text>
<line x1="589.10" y1="193.00" x2="602.30" y2="193.00" stroke="#008000" stroke-width="1.55"/>
<polygon points="595.70,189.00 596.99,191.52 599.79,191.97 597.79,193.98 598.23,196.78 595.70,195.50 593.17,196.78 593.61,193.98 591.61,191.97 594.41,191.52" fill="#008000"/>
<text x="610.90" y="195.60" class="lg" textLength="56.24" lengthAdjust="spacingAndGlyphs">ABSAS-CS-GSA</text>
<text x="530.00" y="257" text-anchor="middle" class="cap">(b) 50-dimension</text>
</svg>
</body></html>
